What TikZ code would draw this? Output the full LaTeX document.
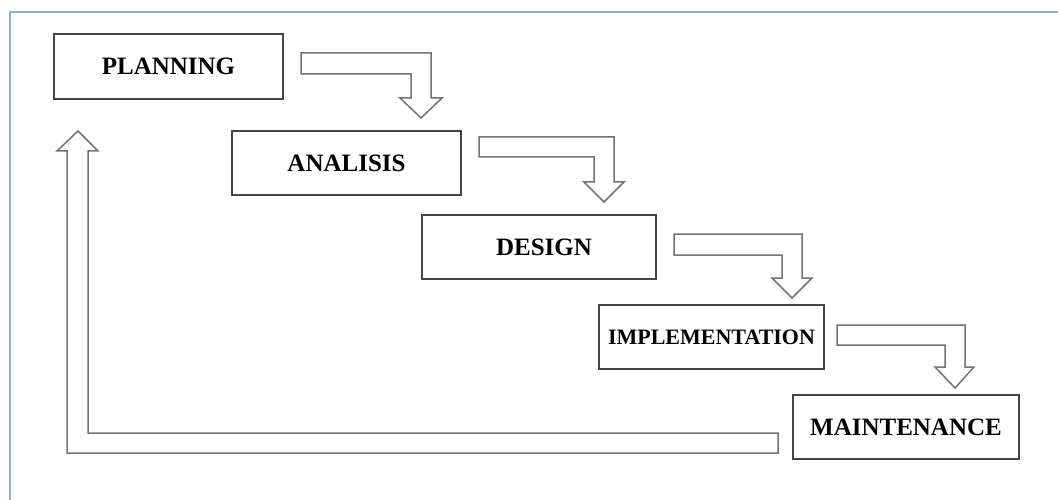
\documentclass[tikz,border=0pt]{standalone}
\usepackage{fontspec}
\setmainfont{Liberation Serif}
\begin{document}
\begin{tikzpicture}[x=1pt,y=-1pt,
  phase/.style={draw=boxline,line width=1.4pt,fill=white,inner sep=0pt,
    font=\bfseries\fontsize{25}{30}\selectfont,text=black},
  blockarrow/.style={draw=arrowline,line width=1.5pt,fill=white,line join=miter}]
\definecolor{boxline}{HTML}{444444}
\definecolor{arrowline}{HTML}{727272}
\definecolor{framec}{HTML}{8DB0C0}
\useasboundingbox (0,0) rectangle (1058,500);
\draw[framec,line width=1.2pt] (10,500) -- (10,12) -- (1058,12);

\node[phase,minimum width=229pt,minimum height=65pt] (plan) at (168.5,66.5) {PLANNING};
\node[phase,minimum width=229pt,minimum height=64pt] (anal) at (346.5,163) {ANALISIS};
\node[phase,minimum width=234pt,minimum height=64pt] (des) at (539,247) {\hspace*{10pt}DESIGN};
\node[phase,minimum width=225pt,minimum height=64pt,font=\bfseries\fontsize{22}{26}\selectfont] (impl) at (711.5,337) {IMPLEMENTATION};
\node[phase,minimum width=226pt,minimum height=64pt] (main) at (906,427) {MAINTENANCE};

\draw[blockarrow] (301,53) -- (431,53) -- (431,98) -- (442,98) -- (421,118) -- (400,98) -- (411,98) -- (411,74) -- (301,74) -- cycle;
\draw[blockarrow] (479,137) -- (614,137) -- (614,182) -- (624,182) -- (604,202) -- (584,182) -- (594,182) -- (594,157) -- (479,157) -- cycle;
\draw[blockarrow] (674,234) -- (802,234) -- (802,278) -- (812,278) -- (792,298) -- (772,278) -- (782,278) -- (782,255) -- (674,255) -- cycle;
\draw[blockarrow] (837,325) -- (965,325) -- (965,367) -- (974,367) -- (955,388) -- (935,367) -- (945,367) -- (945,345) -- (837,345) -- cycle;
\draw[blockarrow] (778,433) -- (88,433) -- (88,151) -- (98,151) -- (78,131) -- (57,151) -- (67,151) -- (67,453) -- (778,453) -- cycle;
\end{tikzpicture}
\end{document}
